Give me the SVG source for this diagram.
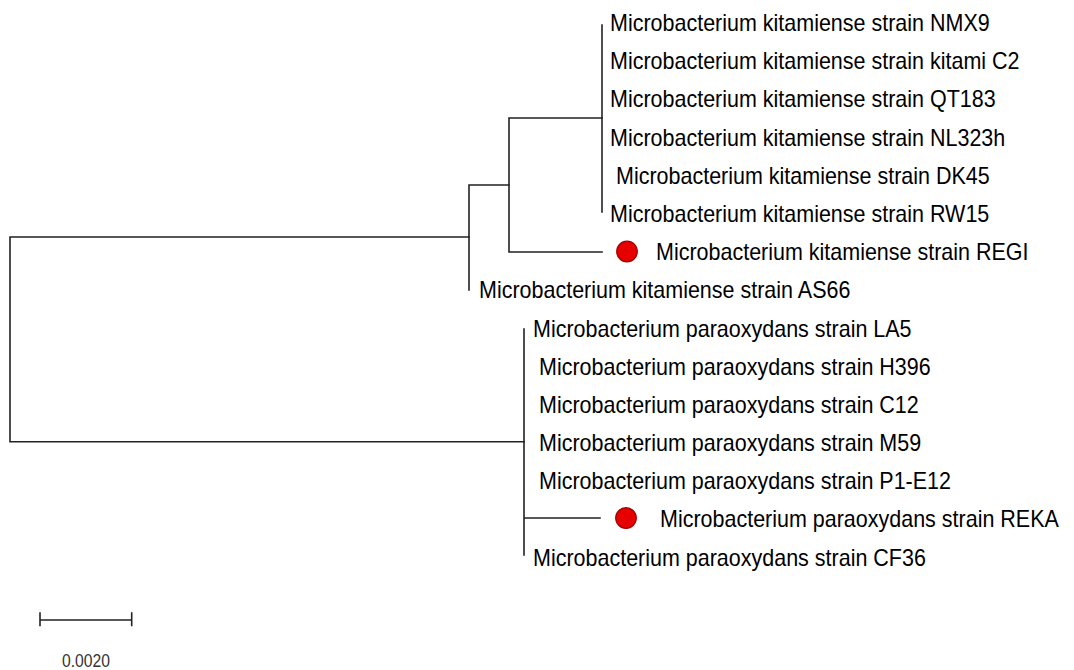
<svg xmlns="http://www.w3.org/2000/svg" width="1074" height="670" viewBox="0 0 1074 670">
<style>
.br{stroke:#222;stroke-width:1.6;fill:none;stroke-linecap:square}
.lb{font-family:"Liberation Sans",Arial,sans-serif;font-size:21.5px;fill:#000}
.sc{font-family:"Liberation Sans",Arial,sans-serif;font-size:15.7px;fill:#333}
.dot{fill:#e60000;stroke:#a00000;stroke-width:1.2}
</style>
<rect width="1074" height="670" fill="#fff"/>
<g id="connectors">
<path class="br" d="M10,237 V441.7 M10,237 H469 M10,441.7 H524"/>
<path class="br" d="M469,185 V290 M469,185 H509"/>
<path class="br" d="M509,118 V252 M509,118 H602 M509,252 H602"/>
<path class="br" d="M602,25 V212"/>
<path class="br" d="M524,329 V555 M524,518 H600"/>
</g>
<g id="leaf-NMX9"><text class="lb" transform="translate(610,31) scale(1,1.07)">Microbacterium kitamiense strain NMX9</text></g>
<g id="leaf-kitamiC2"><text class="lb" transform="translate(610,69.2) scale(1,1.07)">Microbacterium kitamiense strain kitami C2</text></g>
<g id="leaf-QT183"><text class="lb" transform="translate(610,107.4) scale(1,1.07)">Microbacterium kitamiense strain QT183</text></g>
<g id="leaf-NL323h"><text class="lb" transform="translate(610,145.6) scale(1,1.07)">Microbacterium kitamiense strain NL323h</text></g>
<g id="leaf-DK45"><text class="lb" transform="translate(616,183.8) scale(1,1.07)">Microbacterium kitamiense strain DK45</text></g>
<g id="leaf-RW15"><text class="lb" transform="translate(610,222) scale(1,1.07)">Microbacterium kitamiense strain RW15</text></g>
<g id="leaf-REGI"><circle class="dot" cx="627" cy="251.5" r="10.3"/><text class="lb" transform="translate(656,260.2) scale(1,1.07)">Microbacterium kitamiense strain REGI</text></g>
<g id="leaf-AS66"><text class="lb" transform="translate(479,298.4) scale(1,1.07)">Microbacterium kitamiense strain AS66</text></g>
<g id="leaf-LA5"><text class="lb" transform="translate(533,336.6) scale(1,1.07)">Microbacterium paraoxydans strain LA5</text></g>
<g id="leaf-H396"><text class="lb" transform="translate(539,374.8) scale(1,1.07)">Microbacterium paraoxydans strain H396</text></g>
<g id="leaf-C12"><text class="lb" transform="translate(539,413) scale(1,1.07)">Microbacterium paraoxydans strain C12</text></g>
<g id="leaf-M59"><text class="lb" transform="translate(539,451.2) scale(1,1.07)">Microbacterium paraoxydans strain M59</text></g>
<g id="leaf-P1E12"><text class="lb" transform="translate(539,489.4) scale(1,1.07)">Microbacterium paraoxydans strain P1-E12</text></g>
<g id="leaf-REKA"><circle class="dot" cx="626" cy="518" r="10.3"/><text class="lb" transform="translate(660,527) scale(1,1.07)">Microbacterium paraoxydans strain REKA</text></g>
<g id="leaf-CF36"><text class="lb" transform="translate(533,565.5) scale(1,1.07)">Microbacterium paraoxydans strain CF36</text></g>
<g id="scale-bar">
<path class="br" d="M40,620 H131.7 M40,613 V625.5 M131.7,613 V625.5"/>
<text class="sc" text-anchor="middle" transform="translate(86,666.5) scale(1,1.2)">0.0020</text>
</g>
</svg>
